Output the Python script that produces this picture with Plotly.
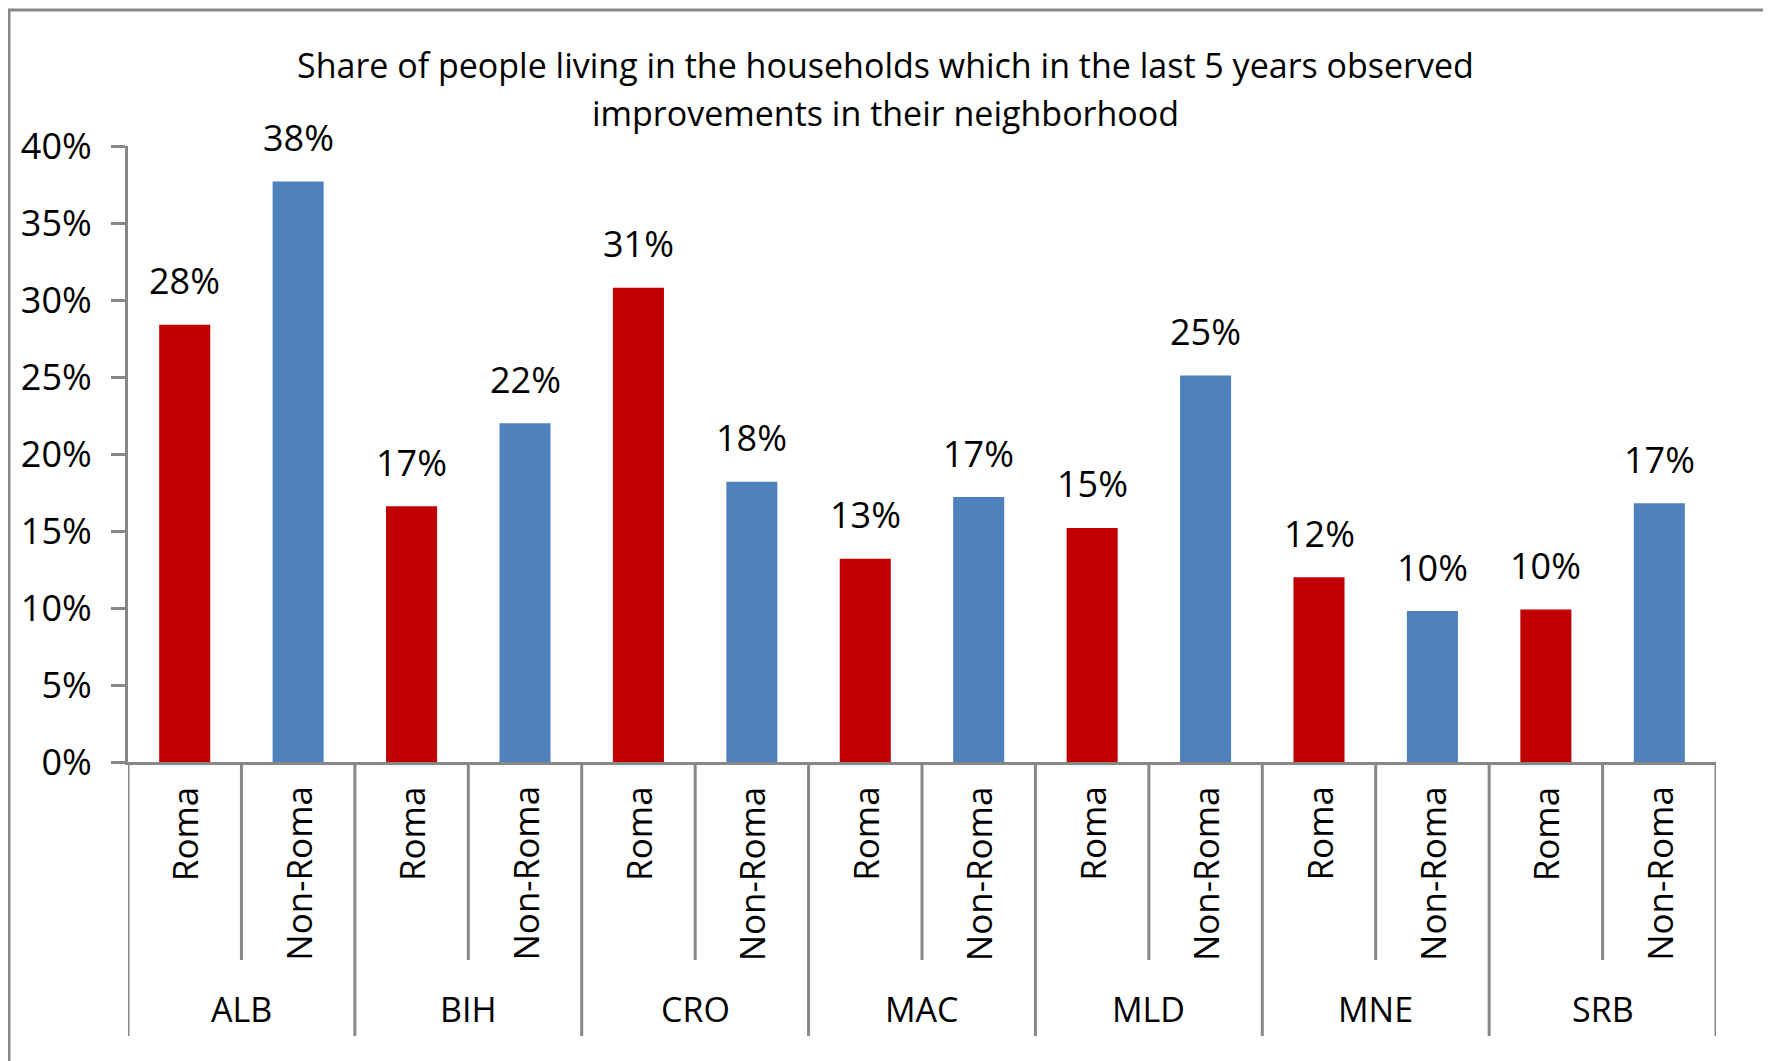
import plotly.graph_objects as go

countries = ["ALB", "BIH", "CRO", "MAC", "MLD", "MNE", "SRB"]
groups = ["Roma", "Non-Roma"]
roma = [0.284, 0.166, 0.308, 0.132, 0.152, 0.120, 0.099]
non_roma = [0.377, 0.220, 0.182, 0.172, 0.251, 0.098, 0.168]
y_ticks = [0, 0.05, 0.10, 0.15, 0.20, 0.25, 0.30, 0.35, 0.40]
title_lines = ["Share of people living in the households which in the last 5 years observed",
               "improvements in their neighborhood"]

RED = "#C00000"
BLUE = "#4F81BD"
GREY = "#878787"
FONT = "Open Sans"

# the page puts the figure 8px in from the top/left corner
OFF = 8
W, H = 1771 - OFF, 1061 - OFF
L, T = 128 - OFF, 146 - OFF          # plot area left / top (figure px)
R = W - (1716 - OFF)
B = H - (762 - OFF)
plot_h = H - T - B
plot_w = W - L - R


def py(y_page):
    # page pixel (from top) -> paper y
    return (H - B - (y_page - OFF)) / plot_h


def px(x_page):
    return (x_page - OFF - L) / plot_w


cats = []
vals = []
colors = []
for c, r, n in zip(countries, roma, non_roma):
    cats += [c + " " + groups[0], c + " " + groups[1]]
    vals += [r, n]
    colors += [RED, BLUE]

fig = go.Figure(go.Bar(x=cats, y=vals, marker_color=colors, marker_line_width=0))

annotations = []
shapes = []

# value labels above bars
for cat, v in zip(cats, vals):
    annotations.append(dict(x=cat, y=v, xref="x", yref="y", text=f"{round(v * 100):.0f}%",
                            showarrow=False, yanchor="middle", yshift=44,
                            font=dict(family=FONT, size=36, color="black")))

# inner category labels and dividers
for i, cat in enumerate(cats):
    g = groups[i % 2]
    annotations.append(dict(x=cat, y=py(784), xref="x", yref="paper", text=g,
                            showarrow=False, textangle=-90, yanchor="top",
                            font=dict(family=FONT, size=35, color="black")))
for i in range(len(cats) + 1):
    bottom = 1036 if i % 2 == 0 else 960
    shapes.append(dict(type="line", xref="x", yref="paper", x0=i - 0.5, x1=i - 0.5,
                       y0=py(762), y1=py(bottom), line=dict(color=GREY, width=3)))

# outer (country) labels
for j, c in enumerate(countries):
    annotations.append(dict(x=2 * j + 0.5, y=py(1009), xref="x", yref="paper", text=c,
                            showarrow=False, yanchor="middle",
                            font=dict(family=FONT, size=34, color="black")))

# title, two lines
for line, yc in zip(title_lines, [65, 113]):
    annotations.append(dict(x=px(885), y=py(yc), xref="paper", yref="paper", text=line,
                            showarrow=False, yanchor="middle", xanchor="center",
                            font=dict(family=FONT, size=34, color="black")))

# chart frame
shapes.append(dict(type="rect", xref="paper", yref="paper", x0=px(9), x1=px(1765),
                   y0=py(1080), y1=py(10), line=dict(color=GREY, width=3)))

fig.update_layout(
    width=W, height=H,
    margin=dict(l=L, r=R, t=T, b=B),
    paper_bgcolor="white", plot_bgcolor="white",
    showlegend=False,
    bargap=0.55,
    annotations=annotations,
    shapes=shapes,
)
fig.update_xaxes(showticklabels=False, showline=True, linecolor=GREY, linewidth=3,
                 showgrid=False, ticks="", range=[-0.5, len(cats) - 0.5])
fig.update_yaxes(range=[0, 0.4], tickvals=y_ticks, tickformat=".0%", showline=True,
                 linecolor=GREY, linewidth=3, ticks="outside", ticklen=14, tickwidth=3,
                 tickcolor=GREY, showgrid=False, zeroline=False, ticklabelstandoff=12,
                 tickfont=dict(family=FONT, size=36, color="black"))

fig.write_html("out.html")
